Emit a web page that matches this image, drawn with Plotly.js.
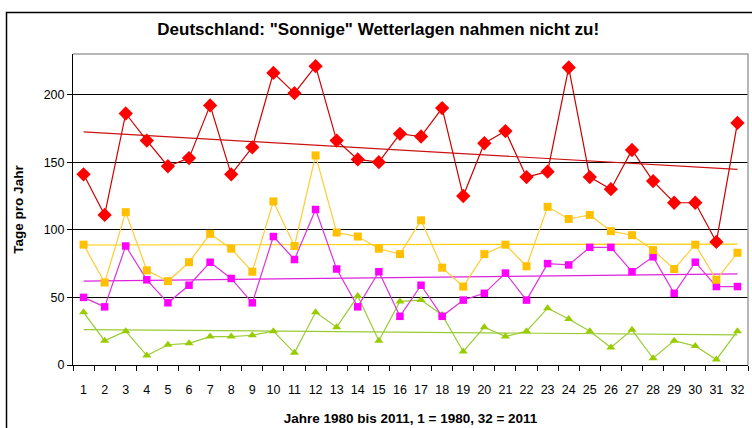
<!DOCTYPE html>
<html><head><meta charset="utf-8">
<script src="https://cdn.plot.ly/plotly-3.0.1.min.js"></script>
<style>html,body{margin:0;padding:0;background:#fff;}#chart{width:752px;height:428px;}</style>
</head><body><div id="chart"></div>
<script>
const years = Array.from({length: 32}, (_, i) => String(i + 1));
const redValues = [141,111,186,166,147,153,192,141,161,216,201,221,166,152,150,171,169,190,125,164,173,139,143,220,139,130,159,136,120,120,91,179];
const yellowValues = [89,61,113,70,62,76,97,86,69,121,88,155,98,95,86,82,107,72,58,82,89,73,117,108,111,99,96,85,71,89,63,83];
const magentaValues = [50,43,88,63,46,59,76,64,46,95,78,115,71,43,69,36,59,36,48,53,68,48,75,74,87,87,69,80,53,76,58,58];
const greenValues = [39,18,25,7,15,16,21,21,22,25,9,39,28,51,18,47,48,37,10,28,21,25,42,34,25,13,26,5,18,14,4,25];
const yTicks = [0,50,100,150,200];

function trend(vals) {
  const n = vals.length;
  let sx=0, sy=0, sxx=0, sxy=0;
  vals.forEach((v,i)=>{const x=i+1; sx+=x; sy+=v; sxx+=x*x; sxy+=x*v;});
  const b = (n*sxy - sx*sy)/(n*sxx - sx*sx);
  const a = (sy - b*sx)/n;
  return [a + b*1, a + b*n];
}

function series(vals, lineColor, markColor, symbol, size) {
  return {x: years, y: vals, type: 'scatter', mode: 'lines+markers',
    line: {color: lineColor, width: 1.2},
    marker: {color: markColor, symbol: symbol, size: size, line: {width: 0}},
    hoverinfo: 'skip', showlegend: false};
}
function trendTrace(vals, color) {
  return {x: [years[0], years[years.length-1]], y: trend(vals), type: 'scatter', mode: 'lines',
    line: {color: color, width: 1.2}, hoverinfo: 'skip', showlegend: false};
}

const data = [
  trendTrace(greenValues, '#99cc33'),
  trendTrace(magentaValues, '#dd22dd'),
  trendTrace(yellowValues, '#ffcc00'),
  trendTrace(redValues, '#cc1111'),
  series(greenValues, '#99cc33', '#99cc00', 'triangle-up', 8),
  series(magentaValues, '#dd33dd', '#ff00ff', 'square', 7.5),
  series(yellowValues, '#ffcc33', '#ffc000', 'square', 8),
  series(redValues, '#cc0000', '#ff0000', 'diamond', 11)
];

const layout = {
  width: 752, height: 428,
  margin: {l: 73, r: 4, t: 54, b: 63},
  paper_bgcolor: '#ffffff', plot_bgcolor: '#ffffff',
  font: {family: 'Liberation Sans, Arial, sans-serif', size: 12, color: '#000'},
  title: {text: 'Deutschland: "Sonnige" Wetterlagen nahmen nicht zu!',
    font: {family: 'Liberation Sans, Arial, sans-serif', size: 17, color: '#000', weight: 'bold'},
    x: 0.503, xref: 'container', xanchor: 'center', y: 1 - 29/428, yanchor: 'middle'},
  xaxis: {type: 'category', categoryorder: 'array', categoryarray: years, range: [-0.5, 31.5], autorange: false,
    tickson: 'boundaries', ticks: 'outside', ticklen: 5, tickcolor: '#000', tickangle: 0,
    showline: true, linecolor: '#000', linewidth: 1, showgrid: false, zeroline: false,
    tickfont: {size: 12.5, color: '#000'}, fixedrange: true, ticklabelstandoff: 13,
    title: {text: 'Jahre 1980 bis 2011, 1 = 1980, 32 = 2011', font: {size: 13.5, weight: 'bold', color: '#000'}, standoff: 17}},
  yaxis: {range: [0, 230], autorange: false, tickvals: yTicks, ticktext: yTicks.map(String), ticks: 'outside', ticklen: 5, tickcolor: '#000',
    showline: true, linecolor: '#000', linewidth: 1, showgrid: true, gridcolor: '#000', gridwidth: 1, zeroline: false,
    tickfont: {size: 12.5, color: '#000'}, fixedrange: true,
    title: {text: 'Tage pro Jahr', font: {size: 13.5, weight: 'bold', color: '#000'}, standoff: 16}},
  shapes: [
    {type: 'path', xref: 'paper', yref: 'paper', path: 'M 0 1 L 1 1 L 1 0', line: {color: '#a0a0a0', width: 1.5}},
    {type: 'path', xref: 'paper', yref: 'paper', path: 'M -0.0985 -0.3 L -0.0985 1.1334 L 1.2 1.1334', line: {color: '#000', width: 1.5}}
  ]
};
Plotly.newPlot('chart', data, layout, {displayModeBar: false, staticPlot: true});
</script></body></html>
